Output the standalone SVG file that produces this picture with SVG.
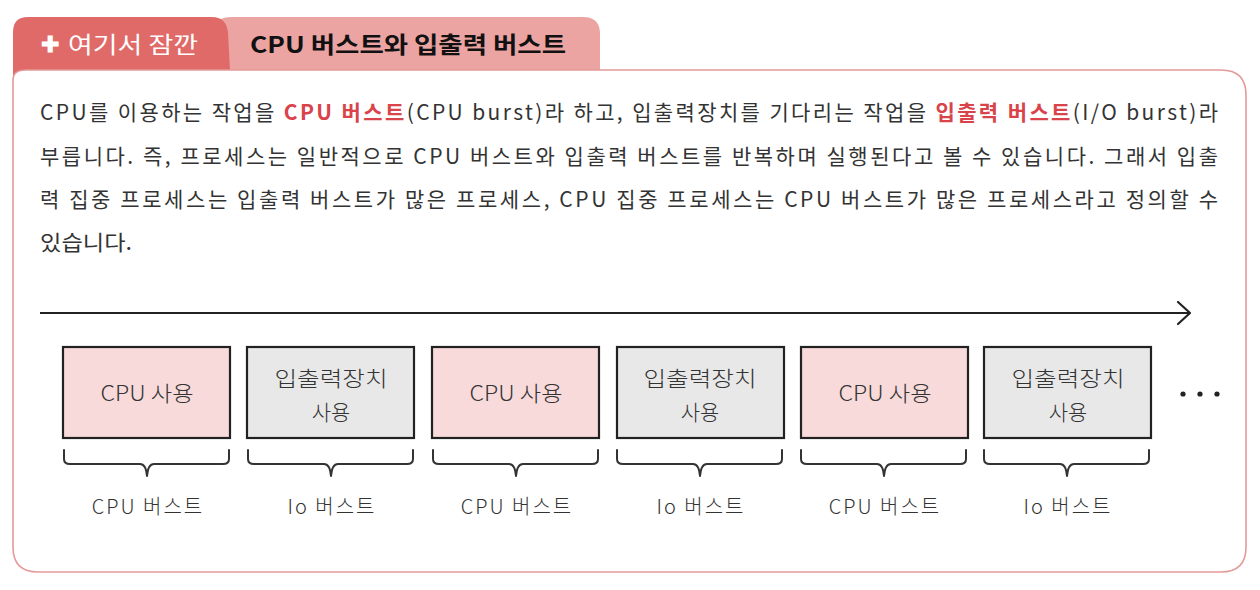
<svg xmlns="http://www.w3.org/2000/svg" width="1260" height="590" viewBox="0 0 1260 590">
<defs>
<style>
.body{font-family:"Noto Sans CJK KR","Noto Sans",sans-serif;font-size:21px;fill:#333;}
.hl{fill:#d9434a;font-weight:bold;}
.lbl{font-family:"Noto Sans CJK KR","Noto Sans",sans-serif;font-size:21px;fill:#333;text-anchor:middle;font-weight:300;}
.bl{font-family:"Noto Sans CJK KR","Noto Sans",sans-serif;font-size:20px;fill:#333;text-anchor:middle;font-weight:300;letter-spacing:2px;}
.box{stroke:#222;stroke-width:2.2;}
.cpu{fill:#f8dadb;}
.io{fill:#e8e8e8;}
.brace{fill:none;stroke:#333;stroke-width:2;stroke-linecap:round;stroke-linejoin:round;}
</style>
</defs>
<rect width="1260" height="590" fill="#fff"/>
<g id="tab2">
<path d="M215 70 V30 Q215 17 232 17 H583 Q600 17 600 34 V70 Z" fill="#eba4a1"/>
<text x="250" y="53" font-family="'Noto Sans CJK KR',sans-serif" font-size="23" font-weight="bold" fill="#111" textLength="316" lengthAdjust="spacingAndGlyphs">CPU 버스트와 입출력 버스트</text>
</g>
<g id="tab1">
<path d="M13 90 V32 Q13 17 28 17 H212 Q226 17 228 32 L230 70 H30 Z" fill="#e06a68"/>
<text x="41" y="52" font-family="Liberation Sans,sans-serif" font-size="22" font-weight="bold" fill="#fff">✚</text>
<text x="68" y="53" font-family="'Noto Sans CJK KR',sans-serif" font-size="23" fill="#fff" textLength="130" lengthAdjust="spacingAndGlyphs">여기서 잠깐</text>
</g>
<g id="frame">
<path d="M13 80 Q13 70 26 70 H1221 Q1246 70 1246 95 V547 Q1246 572 1221 572 H38 Q13 572 13 547 Z" fill="#fff" stroke="#e49a98" stroke-width="1.6"/>
</g>
<g id="paragraph">
<text class="body" x="40" y="120" textLength="1178" lengthAdjust="spacing">CPU를 이용하는 작업을 <tspan class="hl">CPU 버스트</tspan>(CPU burst)라 하고, 입출력장치를 기다리는 작업을 <tspan class="hl">입출력 버스트</tspan>(I/O burst)라</text>
<text class="body" x="40" y="164" textLength="1178" lengthAdjust="spacing">부릅니다. 즉, 프로세스는 일반적으로 CPU 버스트와 입출력 버스트를 반복하며 실행된다고 볼 수 있습니다. 그래서 입출</text>
<text class="body" x="40" y="207" textLength="1178" lengthAdjust="spacing">력 집중 프로세스는 입출력 버스트가 많은 프로세스, CPU 집중 프로세스는 CPU 버스트가 많은 프로세스라고 정의할 수</text>
<text class="body" x="40" y="250" textLength="92" lengthAdjust="spacingAndGlyphs">있습니다.</text>
</g>
<g id="connectors">
<path d="M40 313 H1189" stroke="#222" stroke-width="2.2" fill="none"/>
<path d="M1178 302 L1190 313 L1178 324" stroke="#222" stroke-width="2.2" fill="none" stroke-linecap="round" stroke-linejoin="round"/>
</g>
<g id="node1"><rect class="box cpu" x="63" y="347" width="167" height="91"/><text class="lbl" x="147" y="401" textLength="93" lengthAdjust="spacingAndGlyphs">CPU 사용</text></g>
<g id="node2"><rect class="box io" x="247" y="347" width="167" height="91"/><text class="lbl" x="331" y="386" textLength="113" lengthAdjust="spacingAndGlyphs">입출력장치</text><text class="lbl" x="331" y="420">사용</text></g>
<g id="node3"><rect class="box cpu" x="432" y="347" width="167" height="91"/><text class="lbl" x="516" y="401" textLength="93" lengthAdjust="spacingAndGlyphs">CPU 사용</text></g>
<g id="node4"><rect class="box io" x="617" y="347" width="167" height="91"/><text class="lbl" x="700" y="386" textLength="113" lengthAdjust="spacingAndGlyphs">입출력장치</text><text class="lbl" x="700" y="420">사용</text></g>
<g id="node5"><rect class="box cpu" x="801" y="347" width="167" height="91"/><text class="lbl" x="885" y="401" textLength="93" lengthAdjust="spacingAndGlyphs">CPU 사용</text></g>
<g id="node6"><rect class="box io" x="984" y="347" width="167" height="91"/><text class="lbl" x="1068" y="386" textLength="113" lengthAdjust="spacingAndGlyphs">입출력장치</text><text class="lbl" x="1068" y="420">사용</text></g>
<g id="dots" fill="#222"><circle cx="1183" cy="394" r="2.6"/><circle cx="1200" cy="394" r="2.6"/><circle cx="1217" cy="394" r="2.6"/></g>
<g id="braces">
<path class="brace" d="M64 450 V459 Q64 464 70 464 H140 Q146 464 147 476 Q148 464 154 464 H223 Q229 464 229 459 V450"/>
<path class="brace" d="M248 450 V459 Q248 464 254 464 H324 Q330 464 331 476 Q332 464 338 464 H407 Q413 464 413 459 V450"/>
<path class="brace" d="M433 450 V459 Q433 464 439 464 H509 Q515 464 516 476 Q517 464 523 464 H592 Q598 464 598 459 V450"/>
<path class="brace" d="M617 450 V459 Q617 464 623 464 H693 Q699 464 700 476 Q701 464 707 464 H776 Q782 464 782 459 V450"/>
<path class="brace" d="M801 450 V459 Q801 464 807 464 H877 Q883 464 884 476 Q885 464 891 464 H960 Q966 464 966 459 V450"/>
<path class="brace" d="M984 450 V459 Q984 464 990 464 H1060 Q1066 464 1067 476 Q1068 464 1074 464 H1143 Q1149 464 1149 459 V450"/>
</g>
<g id="burst-labels">
<text class="bl" x="148" y="514">CPU 버스트</text>
<text class="bl" x="332" y="514">Io 버스트</text>
<text class="bl" x="517" y="514">CPU 버스트</text>
<text class="bl" x="701" y="514">Io 버스트</text>
<text class="bl" x="885" y="514">CPU 버스트</text>
<text class="bl" x="1068" y="514">Io 버스트</text>
</g>
</svg>
